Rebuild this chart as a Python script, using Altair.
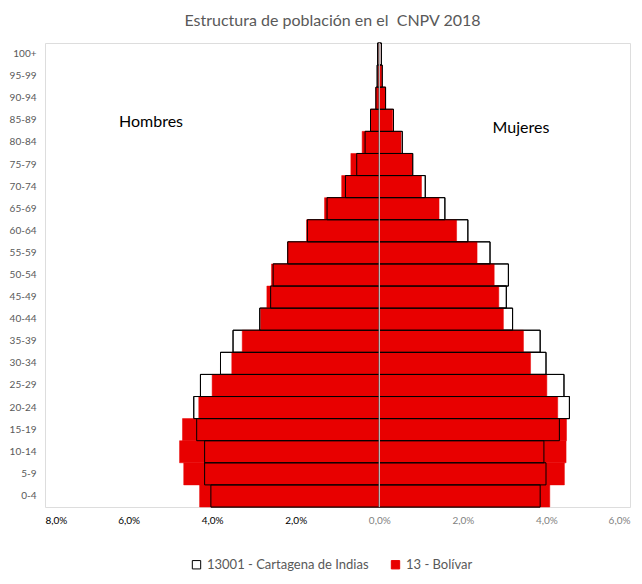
import altair as alt
import pandas as pd

ages = ["100+", "95-99", "90-94", "85-89", "80-84", "75-79", "70-74", "65-69",
        "60-64", "55-59", "50-54", "45-49", "40-44", "35-39", "30-34", "25-29",
        "20-24", "15-19", "10-14", "5-9", "0-4"]

cart_h = [0.04, 0.05, 0.08, 0.21, 0.34, 0.54, 0.81, 1.25, 1.72, 2.19, 2.54,
          2.60, 2.86, 3.50, 3.80, 4.28, 4.44, 4.37, 4.18, 4.18, 4.03]
cart_m = [0.05, 0.07, 0.15, 0.34, 0.55, 0.80, 1.10, 1.57, 2.12, 2.65, 3.09,
          3.04, 3.19, 3.85, 3.99, 4.42, 4.55, 4.31, 3.94, 3.99, 3.85]
bol_h = [0.005, 0.03, 0.08, 0.21, 0.41, 0.68, 0.90, 1.31, 1.74, 2.19, 2.58,
         2.69, 2.84, 3.28, 3.53, 4.00, 4.32, 4.71, 4.78, 4.68, 4.30]
bol_m = [0.01, 0.06, 0.15, 0.32, 0.52, 0.79, 1.01, 1.43, 1.85, 2.34, 2.75,
         2.86, 2.97, 3.45, 3.62, 4.01, 4.27, 4.48, 4.47, 4.43, 4.08]

S1 = "13001 - Cartagena de Indias"
S2 = "13 - Bolívar"

rows = []
for i, a in enumerate(ages):
    rows.append({"edad": a, "serie": S1, "valor": -cart_h[i]})
    rows.append({"edad": a, "serie": S1, "valor": cart_m[i]})
    rows.append({"edad": a, "serie": S2, "valor": -bol_h[i]})
    rows.append({"edad": a, "serie": S2, "valor": bol_m[i]})
df = pd.DataFrame(rows)

W, H = 585, 464
FONT = "Lato"
GRAY = "#595959"

xscale = alt.Scale(domain=[-8, 6], nice=False, zero=False)
yscale = alt.Scale(paddingInner=0, paddingOuter=0)

xaxis = alt.Axis(
    values=[-8, -6, -4, -2, 0, 2, 4, 6],
    labelExpr="replace(format(abs(datum.value), '.1f'), '.', ',') + '%'",
    labelColor=alt.expr("datum.value < 0 ? '#000000' : '#7f7f7f'"),
    grid=False, domain=False, ticks=False, labelPadding=8,
    labelFontSize=10, labelFont=FONT, title=None,
)
yaxis = alt.Axis(grid=False, domain=False, ticks=False, labelPadding=9,
                 labelFontSize=10, labelFont=FONT, labelColor=GRAY, title=None)

colscale = alt.Scale(domain=[S1, S2], range=["#ffffff", "#e80000"])
strokescale = alt.Scale(domain=[S1, S2], range=["#000000", "#e80000"])
legend = alt.Legend(
    title=None, orient="none", direction="horizontal", legendX=145, legendY=515,
    symbolType="square", symbolSize=70, symbolStrokeWidth=1, labelLimit=400,
    labelFontSize=13, labelFont=FONT, labelColor=GRAY, columnPadding=20,
)

base = alt.Chart(df).encode(
    x=alt.X("valor:Q", scale=xscale, axis=xaxis),
    y=alt.Y("edad:N", sort=ages, scale=yscale, axis=yaxis),
)

white_bars = base.transform_filter(alt.datum.serie == S1).mark_bar(
    strokeWidth=1).encode(
    fill=alt.Fill("serie:N", scale=colscale, legend=legend),
    stroke=alt.Stroke("serie:N", scale=strokescale, legend=legend),
)
red_bars = base.transform_filter(alt.datum.serie == S2).mark_bar(
    strokeWidth=0.5).encode(
    fill=alt.Fill("serie:N", scale=colscale, legend=legend),
    stroke=alt.Stroke("serie:N", scale=strokescale, legend=legend),
)
outline = base.transform_filter(alt.datum.serie == S1).mark_bar(
    fillOpacity=0, stroke="#000000", strokeWidth=1)

zero_rule = alt.Chart(pd.DataFrame({"v": [0]})).mark_rule(
    color="#e4e4e4", strokeWidth=1).encode(
    x=alt.X("v:Q", scale=xscale), y=alt.value(0), y2=alt.value(H))

labels = alt.Chart(pd.DataFrame({
    "t": ["Hombres", "Mujeres"], "px": [106, 476], "py": [79, 85]})).mark_text(
    font=FONT, fontSize=16, color="#000000", align="center", baseline="middle"
).encode(text="t:N", x=alt.X("px:Q", scale=None), y=alt.Y("py:Q", scale=None))

chart = alt.layer(white_bars, red_bars, outline, zero_rule, labels).properties(
    width=W, height=H,
    title=alt.TitleParams("Estructura de población en el\u00a0 CNPV 2018",
                          font=FONT, fontSize=16, fontWeight="normal",
                          color=GRAY, anchor="middle", offset=14, dx=-5),
    autosize=alt.AutoSizeParams(type="none"),
    padding={"left": 37, "top": 35, "right": 4, "bottom": 80},
).configure_view(stroke=None).configure(background="white")

chart.save("out.html", embed_options={"renderer": "svg", "actions": False})
